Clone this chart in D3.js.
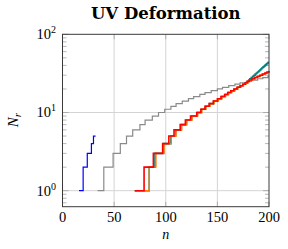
<!DOCTYPE html>
<html><head><meta charset="utf-8">
<script src="https://cdn.jsdelivr.net/npm/d3@7/dist/d3.min.js"></script>
<style>body{margin:0;background:#fff}svg{display:block}</style>
</head><body>
<svg id="c" width="288" height="249"></svg>
<script>
const title = "UV Deformation";
const xTicks = [0, 50, 100, 150, 200];
const yTicks = [1, 10, 100];
// staircase series: n where count steps up, and count values
const blueN = [16, 20, 24, 28, 30, 32];
const blueV = [1, 2, 3, 4, 5, 5];
const grayN = [34, 40, 49, 56, 62, 68, 75, 80, 87, 93, 99, 105, 110, 116, 122, 127, 133, 138, 144, 150, 155, 161, 167, 172, 178, 183, 189, 194, 199, 200];
const grayV = [1, 2, 3, 4, 5, 6, 7, 8, 9, 10, 11, 12, 13, 14, 15, 16, 17, 18, 19, 20, 21, 22, 23, 24, 25, 26, 27, 28, 29, 29];
const tealN = [70, 84, 89.6, 98, 105, 109.5, 115, 120, 125, 130.5, 134.5, 138.5, 142.5, 146.5, 150.5, 154, 157.5, 160.5, 163.5, 166.5, 169.5, 172.3, 174.8, 177.2, 179.3, 180.5, 181.4, 182.8, 184.1, 185.4, 186.6, 187.8, 188.9, 190, 191, 192, 193, 194, 195, 196, 196.8, 197.7, 198.5, 199.3, 200];
const tealV = [1, 2, 3, 4, 5, 6, 7, 8, 9, 10, 11, 12, 13, 14, 15, 16, 17, 18, 19, 20, 21, 22, 23, 24, 25, 26, 27, 28, 29, 30, 31, 32, 33, 34, 35, 36, 37, 38, 39, 40, 41, 42, 43, 44, 44];
const orangeN = [70, 84, 90.5, 98.3, 105.4, 110, 115.5, 120.5, 125.5, 131, 135, 139, 143, 147, 151, 154.5, 158, 161, 164, 167, 170, 172.8, 175.3, 177.7, 179.8, 181.8, 184.3, 186.8, 189.3, 191.8, 194.3, 196.8, 199.2, 200];
const orangeV = [1, 2, 3, 4, 5, 6, 7, 8, 9, 10, 11, 12, 13, 14, 15, 16, 17, 18, 19, 20, 21, 22, 23, 24, 25, 26, 27, 28, 29, 30, 31, 32, 33, 33];
const redN = [70, 79, 88, 97, 103, 108, 114, 119, 124, 130, 134, 138, 142, 146, 150, 153.5, 157, 160, 163, 166, 169, 172, 174.5, 177, 179, 181, 183.5, 186, 188.5, 191, 193.5, 196, 198, 200];
const redV = [1, 2, 3, 4, 5, 6, 7, 8, 9, 10, 11, 12, 13, 14, 15, 16, 17, 18, 19, 20, 21, 22, 23, 24, 25, 26, 27, 28, 29, 30, 31, 32, 33, 34];

const L = 62.5, R = 269, T = 34.3, B = 206.7;
const svg = d3.select("#c");
const x = d3.scaleLinear().domain([0, 200]).range([L, R]);
const y = d3.scaleLog().domain([0.624, 100]).range([B, T]);

const g = svg.append("g");
const minor = [];
[0.1, 1, 10].forEach(d => { for (let k = 2; k <= 9; k++) { const v = d * k; if (v > 0.624 && v < 100) minor.push(v); } });
// grid
g.selectAll(".gx").data([50, 100, 150]).join("line")
  .attr("x1", d => x(d)).attr("x2", d => x(d)).attr("y1", T).attr("y2", B)
  .attr("stroke", "#d4d4d4").attr("stroke-width", 1);
g.selectAll(".gy").data([1, 10]).join("line")
  .attr("x1", L).attr("x2", R).attr("y1", d => y(d)).attr("y2", d => y(d))
  .attr("stroke", "#d4d4d4").attr("stroke-width", 1);
// minor ticks
g.selectAll(".ml").data(minor).join("line")
  .attr("x1", L).attr("x2", L + 4).attr("y1", d => y(d)).attr("y2", d => y(d))
  .attr("stroke", "#9a9a9a").attr("stroke-width", 0.7);
g.selectAll(".mr").data(minor).join("line")
  .attr("x1", R - 4).attr("x2", R).attr("y1", d => y(d)).attr("y2", d => y(d))
  .attr("stroke", "#9a9a9a").attr("stroke-width", 0.7);
// major ticks
g.selectAll(".tb").data(xTicks).join("line")
  .attr("x1", d => x(d)).attr("x2", d => x(d)).attr("y1", B).attr("y2", B - 5)
  .attr("stroke", "#9a9a9a").attr("stroke-width", 0.7);
g.selectAll(".tt").data(xTicks).join("line")
  .attr("x1", d => x(d)).attr("x2", d => x(d)).attr("y1", T).attr("y2", T + 5)
  .attr("stroke", "#9a9a9a").attr("stroke-width", 0.7);
g.selectAll(".yl").data(yTicks).join("line")
  .attr("x1", L).attr("x2", L + 6).attr("y1", d => y(d)).attr("y2", d => y(d))
  .attr("stroke", "#9a9a9a").attr("stroke-width", 0.7);
g.selectAll(".yr").data(yTicks).join("line")
  .attr("x1", R - 6).attr("x2", R).attr("y1", d => y(d)).attr("y2", d => y(d))
  .attr("stroke", "#9a9a9a").attr("stroke-width", 0.7);

const line = d3.line().x(d => x(d[0])).y(d => y(d[1])).curve(d3.curveStepAfter);
function series(ns, vs, color, w) {
  const pts = ns.map((n, i) => [n, vs[i]]);
  svg.append("path").attr("d", line(pts)).attr("fill", "none")
    .attr("stroke", color).attr("stroke-width", w).attr("stroke-linejoin", "miter");
}
series(blueN, blueV, "#0000ff", 1.2);
series(grayN, grayV, "#8a8a8a", 1.2);
series(tealN, tealV, "#008080", 1.6);
series(orangeN, orangeV, "#ff8000", 1.4);
series(redN, redV, "#ff0000", 1.6);

// frame
svg.append("rect").attr("x", L).attr("y", T).attr("width", R - L).attr("height", B - T)
  .attr("fill", "none").attr("stroke", "#3a3a3a").attr("stroke-width", 1);

// tick labels
svg.selectAll(".xl").data(xTicks).join("text")
  .attr("x", d => x(d)).attr("y", 222).attr("text-anchor", "middle")
  .attr("font-family", "Liberation Serif").attr("font-size", 14.5).attr("fill", "#000")
  .text(d => d);
const yl = svg.selectAll(".ylab").data(yTicks).join("text")
  .attr("x", 56).attr("y", d => y(d) + 5).attr("text-anchor", "end")
  .attr("font-family", "Liberation Serif").attr("font-size", 14.5).attr("fill", "#000");
yl.append("tspan").text("10");
yl.append("tspan").attr("dy", -6).attr("font-size", 10).text(d => Math.round(Math.log10(d)));

// axis labels
svg.append("text").attr("x", (L + R) / 2).attr("y", 239).attr("text-anchor", "middle")
  .attr("font-family", "Liberation Serif").attr("font-style", "italic").attr("font-size", 14).text("n");
const yt = svg.append("text").attr("transform", "translate(18,120) rotate(-90)").attr("text-anchor", "middle")
  .attr("font-family", "Liberation Serif").attr("font-style", "italic").attr("font-size", 15);
yt.append("tspan").text("N");
yt.append("tspan").attr("dy", 3).attr("font-size", 11).text("r");

svg.append("text").attr("x", (L + R) / 2).attr("y", 19).attr("text-anchor", "middle")
  .attr("font-family", "DejaVu Serif").attr("font-weight", "bold").attr("font-size", 16.5).text(title);
</script>
</body></html>
